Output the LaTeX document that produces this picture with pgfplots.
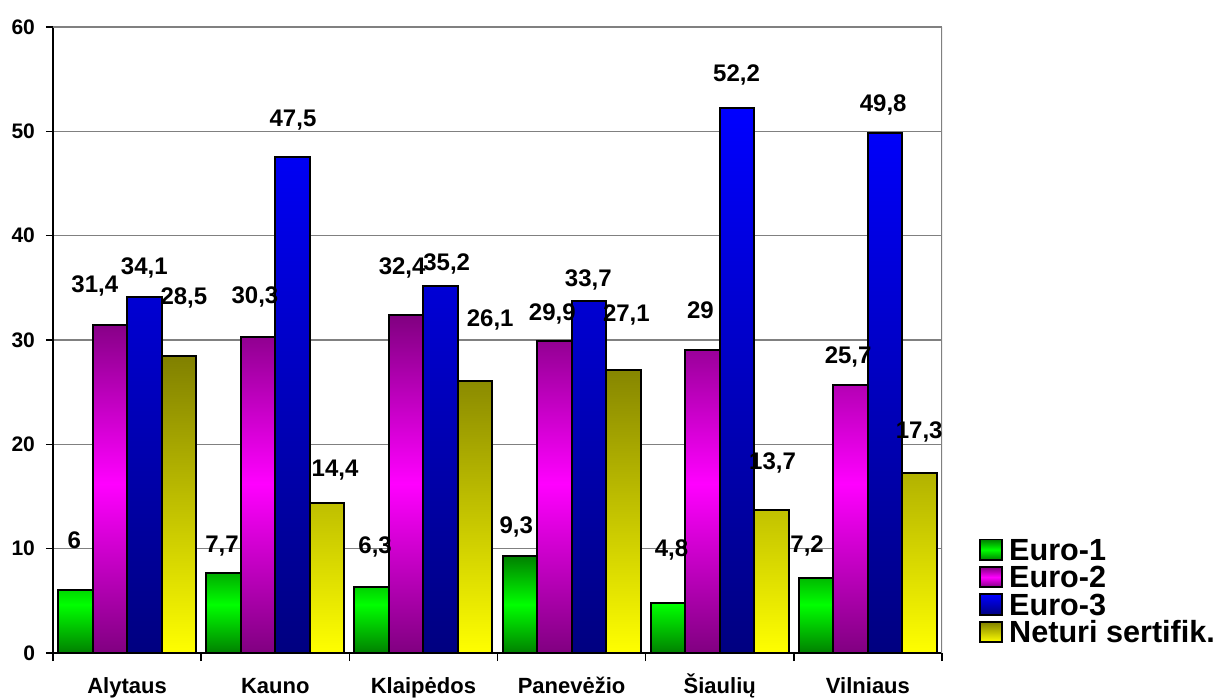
\documentclass[border=0pt]{standalone}
\usepackage{pgfplots}
\pgfplotsset{compat=1.18}
\usepackage{pgfplotstable}
\usepackage{fontspec}
\setmainfont{Liberation Sans}

\definecolor{eoneDark}{RGB}{0,128,0}
\definecolor{eoneLight}{RGB}{0,255,0}
\definecolor{etwoDark}{RGB}{128,0,128}
\definecolor{etwoLight}{RGB}{255,0,255}
\definecolor{ethreeTop}{RGB}{0,0,255}
\definecolor{ethreeBot}{RGB}{0,0,128}
\definecolor{netTop}{RGB}{128,128,0}
\definecolor{netBot}{RGB}{255,255,0}
\definecolor{gridgray}{RGB}{128,128,128}

% x = region index, y = share, dx/dy = label offset (in half points)
\pgfplotstableread{
x y dx dy
0 6 -1 50
1 7.7 -1.5 27
2 6.3 3.5 40
3 9.3 -3.5 29
4 4.8 3.5 53
5 7.2 -9 32
}\euroone
\pgfplotstableread{
x y dx dy
0 31.4 -15 39
1 30.3 -3 40
2 32.4 -4 47
3 29.9 -2 27
4 29 -2 40
5 25.7 -2.5 28
}\eurotwo
\pgfplotstableread{
x y dx dy
0 34.1 0 29
1 47.5 0.5 37
2 35.2 6 22
3 33.7 -0.5 21
4 52.2 -0.5 33
5 49.8 -2 28
}\eurothree
\pgfplotstableread{
x y dx dy
0 28.5 5 58
1 14.4 8 33
2 26.1 15 61
3 27.1 3 55
4 13.7 1 47
5 17.3 -0.5 41
}\neturi

\pgfplotsset{
  sqlegend/.style={legend image code/.code={%
    \draw[##1,line width=0.9pt] (0pt,-5.1pt) rectangle (11pt,5.1pt);}},
}

\begin{document}
\begin{tikzpicture}
\path[use as bounding box] (-26.5pt,-22pt) rectangle (586.5pt,326.5pt);
\begin{axis}[
  at={(0pt,0pt)}, anchor=south west,
  scale only axis, width=444.5pt, height=313pt,
  ybar=0pt, bar width=0.233,
  xmin=-0.5, xmax=5.5, ymin=0, ymax=60,
  axis x line*=bottom, axis y line*=left,
  axis line style={black, line width=1pt},
  xtick={0,...,5},
  xticklabels={Alytaus,Kauno,Klaipėdos,Panevėžio,Šiaulių,Vilniaus},
  major x tick style={draw=none},
  minor xtick={-0.5,0.5,...,5.5},
  minor x tick style={black, line width=0.8pt},
  minor tick length=4pt,
  ytick={0,10,...,60},
  y tick style={black, line width=0.8pt},
  major tick length=3.5pt,
  tick align=outside,
  ymajorgrids,
  grid style={gridgray, line width=0.6pt},
  /pgf/number format/use comma,
  /pgf/number format/assume math mode=true,
  yticklabel style={font=\fontsize{10.5}{12}\selectfont\bfseries, xshift=-2pt},
  xticklabel style={font=\fontsize{11}{13}\selectfont\bfseries, anchor=north,
    text height=8pt, text depth=2.5pt, yshift=-5pt},
  nodes near coords,
  visualization depends on={\thisrow{dx} \as \labdx},
  visualization depends on={\thisrow{dy} \as \labdy},
  every node near coord/.append style={font=\fontsize{12}{14}\selectfont\bfseries,
    text=black, anchor=center, xshift={\labdx*0.5pt}, yshift={\labdy*0.5pt}},
  legend style={at={(1,0)}, anchor=south west, xshift=18.5pt, yshift=3.5pt,
    draw=none, fill=none, font=\fontsize{15.3}{16}\selectfont\bfseries,
    row sep=0pt, inner sep=0pt, column sep=2pt,
    nodes={inner sep=1pt, text height=11.2pt, text depth=0.5pt}},
  legend cell align=left,
]
\addplot[draw=black, line width=1pt, top color=eoneDark, bottom color=eoneDark,
  middle color=eoneLight, sqlegend] table[x=x,y=y] {\euroone};
\addplot[draw=black, line width=1pt, top color=etwoDark, bottom color=etwoDark,
  middle color=etwoLight, sqlegend] table[x=x,y=y] {\eurotwo};
\addplot[draw=black, line width=1pt, top color=ethreeTop, bottom color=ethreeBot,
  sqlegend] table[x=x,y=y] {\eurothree};
\addplot[draw=black, line width=1pt, top color=netTop, bottom color=netBot,
  sqlegend] table[x=x,y=y] {\neturi};
\legend{Euro-1,Euro-2,Euro-3,Neturi sertifik.}
\draw[gridgray, line width=1pt] (rel axis cs:0,1) -- (rel axis cs:1,1) -- (rel axis cs:1,0);
\end{axis}
\end{tikzpicture}
\end{document}
